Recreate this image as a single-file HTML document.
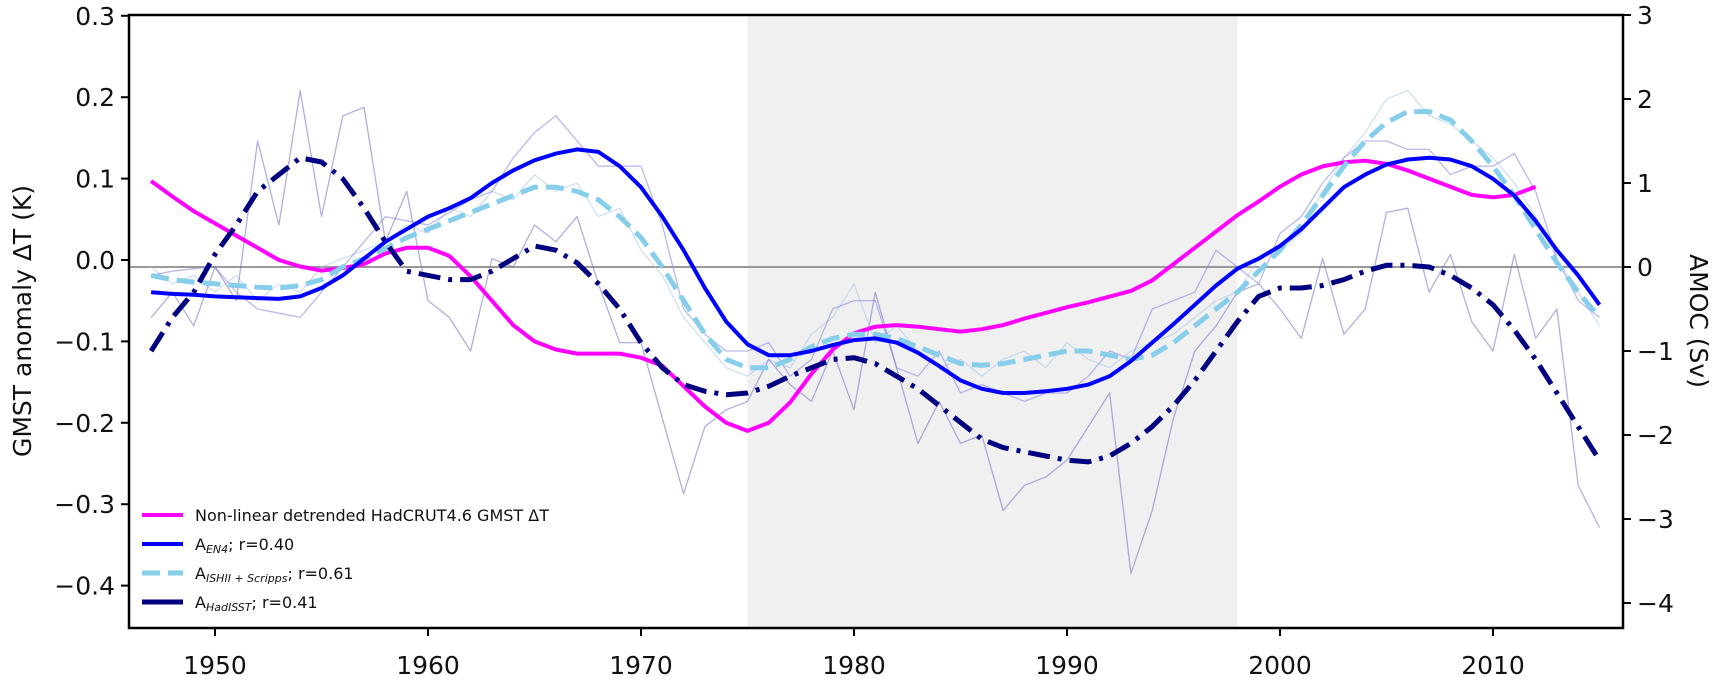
<!DOCTYPE html>
<html><head><meta charset="utf-8"><style>
html,body{margin:0;padding:0;background:#fff;}
svg text{font-family:"DejaVu Sans","Liberation Sans",sans-serif;}
</style></head><body>
<svg id="chart" width="1725" height="680" viewBox="0 0 1725 680" xmlns="http://www.w3.org/2000/svg"></svg>
<script>
const years=[1947,1948,1949,1950,1951,1952,1953,1954,1955,1956,1957,1958,1959,1960,1961,1962,1963,1964,1965,1966,1967,1968,1969,1970,1971,1972,1973,1974,1975,1976,1977,1978,1979,1980,1981,1982,1983,1984,1985,1986,1987,1988,1989,1990,1991,1992,1993,1994,1995,1996,1997,1998,1999,2000,2001,2002,2003,2004,2005,2006,2007,2008,2009,2010,2011,2012,2013,2014,2015];
const gmst=[0.097,0.078,0.06,0.045,0.03,0.015,0.0,-0.008,-0.013,-0.01,-0.005,0.008,0.015,0.015,0.005,-0.02,-0.05,-0.08,-0.1,-0.11,-0.115,-0.115,-0.115,-0.12,-0.13,-0.155,-0.18,-0.2,-0.21,-0.2,-0.175,-0.14,-0.11,-0.09,-0.082,-0.08,-0.082,-0.085,-0.088,-0.085,-0.08,-0.072,-0.065,-0.058,-0.052,-0.045,-0.038,-0.025,-0.005,0.015,0.035,0.055,0.072,0.09,0.105,0.115,0.12,0.122,0.118,0.11,0.1,0.09,0.08,0.077,0.08,0.09,null,null,null];
const en4=[-0.3,-0.32,-0.33,-0.35,-0.36,-0.37,-0.38,-0.35,-0.25,-0.1,0.1,0.3,0.45,0.6,0.7,0.82,1.0,1.15,1.27,1.35,1.4,1.37,1.2,0.95,0.6,0.2,-0.25,-0.65,-0.92,-1.05,-1.05,-1.0,-0.93,-0.87,-0.85,-0.9,-1.02,-1.18,-1.35,-1.45,-1.5,-1.5,-1.48,-1.45,-1.4,-1.3,-1.12,-0.9,-0.68,-0.45,-0.22,-0.02,0.1,0.25,0.45,0.7,0.95,1.1,1.22,1.28,1.3,1.28,1.2,1.05,0.85,0.55,0.2,-0.1,-0.45];
const ishii=[-0.1,-0.15,-0.18,-0.2,-0.22,-0.24,-0.25,-0.22,-0.15,0.0,0.1,0.22,0.35,0.45,0.55,0.65,0.75,0.85,0.95,0.95,0.9,0.8,0.6,0.35,0.0,-0.4,-0.8,-1.1,-1.2,-1.2,-1.1,-0.95,-0.85,-0.8,-0.8,-0.85,-0.95,-1.05,-1.15,-1.17,-1.15,-1.1,-1.05,-1.0,-1.0,-1.05,-1.1,-1.05,-0.9,-0.7,-0.5,-0.3,-0.05,0.2,0.5,0.85,1.2,1.5,1.72,1.85,1.85,1.75,1.5,1.2,0.85,0.45,0.05,-0.3,-0.6];
const hadisst=[-1.0,-0.6,-0.3,0.15,0.5,0.9,1.1,1.3,1.25,1.05,0.7,0.3,-0.05,-0.1,-0.15,-0.15,-0.05,0.1,0.25,0.2,0.05,-0.2,-0.5,-0.9,-1.2,-1.4,-1.48,-1.52,-1.5,-1.42,-1.3,-1.2,-1.1,-1.08,-1.15,-1.3,-1.45,-1.65,-1.85,-2.05,-2.15,-2.2,-2.25,-2.3,-2.32,-2.25,-2.1,-1.9,-1.65,-1.35,-1.0,-0.65,-0.35,-0.25,-0.25,-0.22,-0.15,-0.05,0.02,0.02,0.0,-0.1,-0.25,-0.45,-0.75,-1.1,-1.5,-1.9,-2.3];
const rawHad=[-0.6,-0.3,-0.7,0.0,-0.4,1.5,0.5,2.1,0.6,1.8,1.9,0.3,0.9,-0.4,-0.6,-1.0,0.1,0.0,0.5,0.3,0.6,-0.2,-0.9,-0.9,-1.8,-2.7,-1.9,-1.7,-1.6,-1.1,-1.4,-1.6,-1.0,-1.7,-0.3,-1.2,-2.1,-1.6,-2.1,-2.0,-2.9,-2.6,-2.5,-2.3,-1.9,-1.5,-3.65,-2.9,-1.8,-1.0,-0.7,-0.3,-0.2,-0.5,-0.85,0.1,-0.8,-0.5,0.65,0.7,-0.3,0.15,-0.65,-1.0,0.15,-0.85,-0.5,-2.6,-3.1];
const rawEn4=[-0.1,-0.05,-0.02,0.0,-0.3,-0.5,-0.55,-0.6,-0.3,0.0,0.3,0.6,0.55,0.5,0.65,0.8,0.9,1.3,1.6,1.8,1.5,1.2,1.2,1.2,0.5,-0.5,-0.8,-1.0,-1.0,-0.9,-1.3,-1.1,-0.5,-0.4,-0.4,-1.2,-1.3,-1.0,-1.5,-1.4,-1.5,-1.6,-1.5,-1.5,-1.3,-1.0,-1.1,-0.5,-0.4,-0.3,0.2,0.0,-0.2,0.4,0.6,1.0,1.3,1.5,1.5,1.4,1.4,1.1,1.2,1.2,1.35,0.9,0.1,-0.4,-0.6];
const rawIshii=[0.0,-0.2,-0.1,-0.3,-0.1,-0.4,-0.2,-0.3,0.0,0.1,0.2,0.3,0.5,0.4,0.7,0.6,0.9,0.8,1.1,0.9,1.0,0.6,0.7,0.2,-0.1,-0.6,-0.9,-1.2,-1.3,-1.1,-1.2,-0.8,-0.6,-0.2,-0.9,-0.7,-1.0,-1.2,-1.1,-1.3,-1.1,-1.0,-1.2,-0.9,-1.1,-1.2,-1.0,-0.9,-0.8,-0.6,-0.4,-0.3,0.1,0.2,0.4,0.9,1.3,1.6,2.0,2.1,1.8,1.7,1.5,1.3,1.0,0.6,0.1,-0.3,-0.7];
const leftTicks=[0.3,0.2,0.1,0.0,-0.1,-0.2,-0.3,-0.4];
const leftLabels=["0.3","0.2","0.1","0.0","\u22120.1","\u22120.2","\u22120.3","\u22120.4"];
const rightTicks=[3,2,1,0,-1,-2,-3,-4];
const rightLabels=["3","2","1","0","\u22121","\u22122","\u22123","\u22124"];
const xTicks=[1950,1960,1970,1980,1990,2000,2010];
const shade=[1975,1998];

const L=129,R=1623,T=15,B=628;
const X=y=>215+(y-1950)*21.3;
const YL=v=>260-v*814;
const YR=v=>267-v*84;
const svg=document.getElementById('chart');
const NS='http://www.w3.org/2000/svg';
function mk(tag,attrs,parent){const e=document.createElementNS(NS,tag);for(const k in attrs)e.setAttribute(k,attrs[k]);(parent||svg).appendChild(e);return e;}

const sh=mk('rect',{x:X(shade[0]),y:T,width:X(shade[1])-X(shade[0]),height:B-T,fill:'#f0f0f0'});


const zl=mk('line',{x1:L,x2:R,y1:YR(0),y2:YR(0),stroke:'#999',"stroke-width":2});



function pts(arr,f){const p=[];arr.forEach((v,i)=>{if(v!==null)p.push(X(years[i]).toFixed(1)+','+f(v).toFixed(1));});return p.join(' ');}
function line(arr,f,style){return mk('polyline',Object.assign({points:pts(arr,f),fill:'none',"stroke-linejoin":'round'},style));}

let e;
e=line(rawIshii,YR,{stroke:'#a8c8e8',"stroke-width":1.2,opacity:0.6});


e=line(rawEn4,YR,{stroke:'#8a8ae0',"stroke-width":1.3,opacity:0.6});


e=line(rawHad,YR,{stroke:'#7070c0',"stroke-width":1.3,opacity:0.55});


e=line(gmst,YL,{stroke:'#ff00ff',"stroke-width":4});


e=line(ishii,YR,{stroke:'#87ceeb',"stroke-width":5,"stroke-dasharray":'18,8'});


e=line(en4,YR,{stroke:'#0000ff',"stroke-width":4});


e=line(hadisst,YR,{stroke:'#000080',"stroke-width":5,"stroke-dasharray":'22,8,4,8'});



const fr=mk('rect',{x:L,y:T,width:R-L,height:B-T,fill:'none',stroke:'#000',"stroke-width":2.5});



leftTicks.forEach((v,i)=>{
  const t=mk('line',{x1:L-8,x2:L,y1:YL(v),y2:YL(v),stroke:'#000',"stroke-width":2});
  
  
  const tx=mk('text',{x:L-14,y:YL(v)+9,"text-anchor":'end',"font-size":25,fill:'#111'});
  tx.textContent=leftLabels[i];
  
  
});
rightTicks.forEach((v,i)=>{
  const t=mk('line',{x1:R,x2:R+8,y1:YR(v),y2:YR(v),stroke:'#000',"stroke-width":2});
  
  
  const tx=mk('text',{x:R+14,y:YR(v)+9,"font-size":25,fill:'#111'});
  tx.textContent=rightLabels[i];
  
  
});
xTicks.forEach(v=>{
  const t=mk('line',{x1:X(v),x2:X(v),y1:B,y2:B+8,stroke:'#000',"stroke-width":2});
  
  
  const tx=mk('text',{x:X(v),y:B+46,"text-anchor":'middle',"font-size":25,fill:'#111'});
  tx.textContent=v;
  
  
});
const yt=mk('text',{x:0,y:0,"text-anchor":'middle',"font-size":25,fill:'#111',transform:'translate(31,321) rotate(-90)'});
yt.textContent='GMST anomaly \u0394T (K)';


const rt=mk('text',{x:0,y:0,"text-anchor":'middle',"font-size":25,fill:'#111',transform:'translate(1690,321) rotate(90)'});
rt.textContent='AMOC (Sv)';



const lg=mk('g',{});


const entries=[
 {y:515,stroke:'#ff00ff',dash:'',w:4,label:'Non-linear detrended HadCRUT4.6 GMST \u0394T',sub:''},
 {y:544,stroke:'#0000ff',dash:'',w:4,label:'A',sub:'EN4',r:'; r=0.40'},
 {y:573,stroke:'#87ceeb',dash:'18,8',w:5,label:'A',sub:'ISHII + Scripps',r:'; r=0.61'},
 {y:602,stroke:'#000080',dash:'',w:5,label:'A',sub:'HadISST',r:'; r=0.41'}
];
entries.forEach(en=>{
  const ln=mk('line',{x1:142,x2:183,y1:en.y,y2:en.y,stroke:en.stroke,"stroke-width":en.w,"stroke-dasharray":en.dash},lg);
  
  
  const tx=mk('text',{x:195,y:en.y+6,"font-size":16,fill:'#111'},lg);
  
  
  if(!en.sub){tx.textContent=en.label;}
  else{
    const a=mk('tspan',{},tx);a.textContent=en.label;
    const s=mk('tspan',{"font-size":11,"font-style":'italic',dy:3},tx);s.textContent=en.sub;
    const r=mk('tspan',{dy:-3},tx);r.textContent=en.r;
  }
});
</script>
</body></html>
